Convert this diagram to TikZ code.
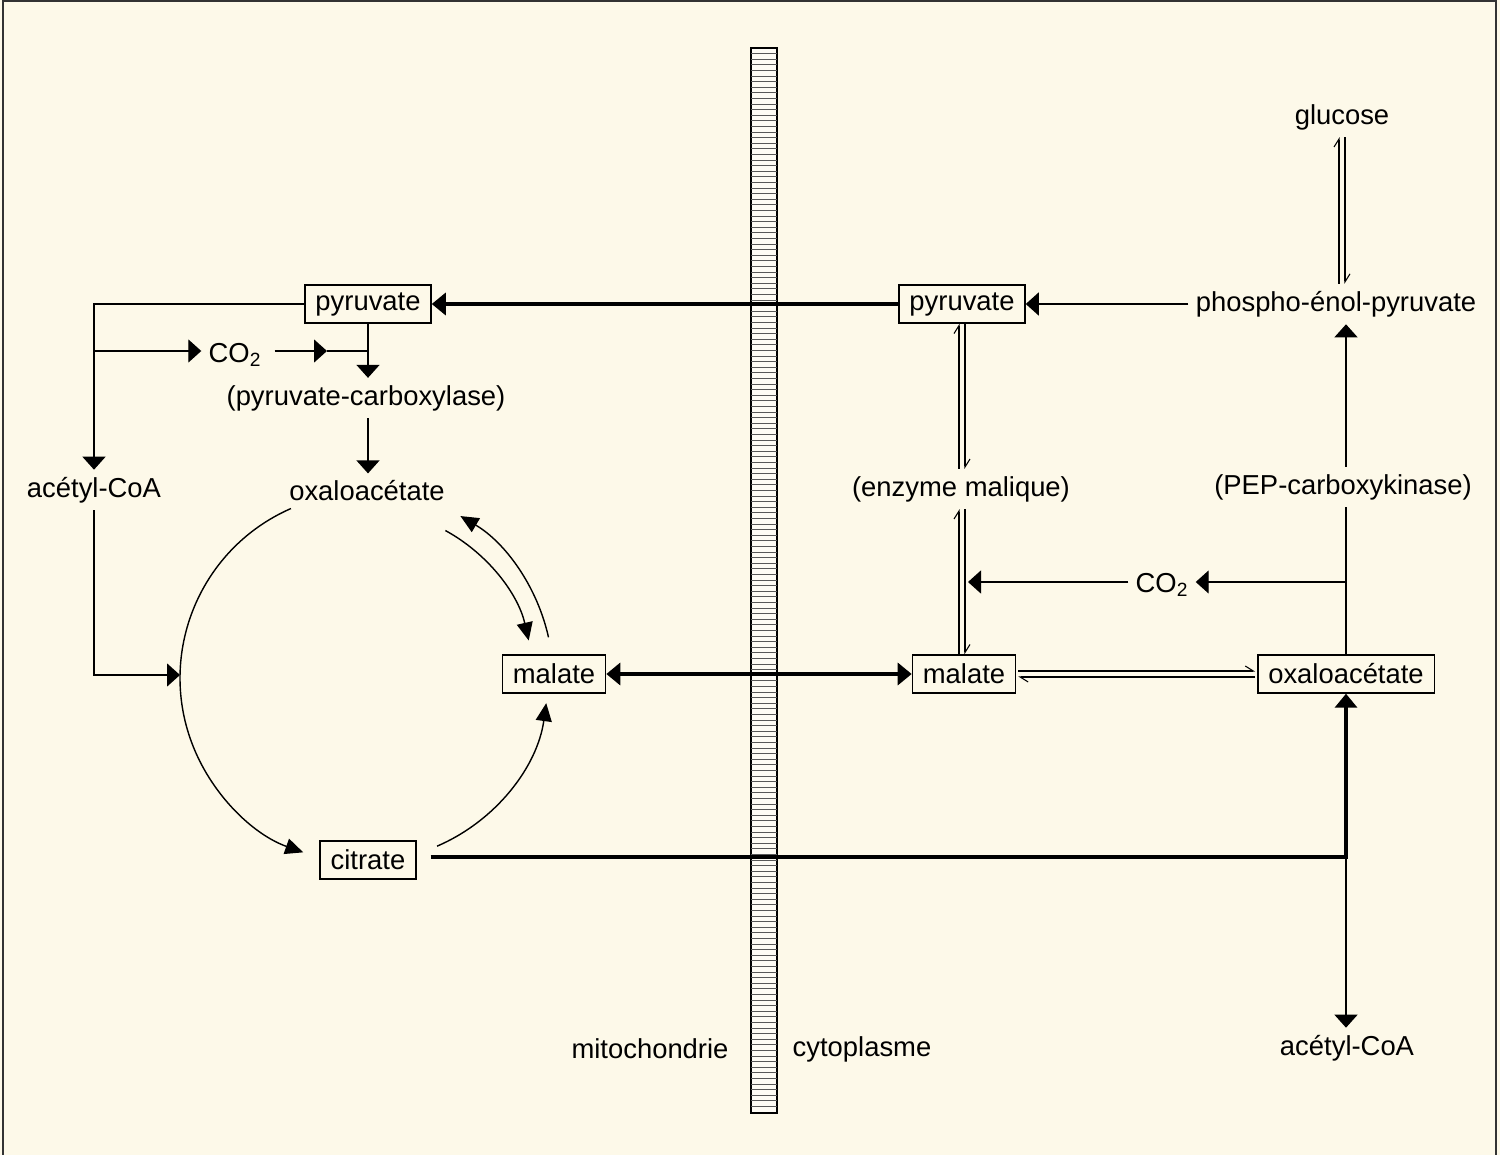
\documentclass[tikz,border=0pt]{standalone}
\usepackage{fontspec}
\setmainfont{Liberation Sans}
\usetikzlibrary{arrows.meta,calc}
\definecolor{fond}{RGB}{253,249,233}

\begin{document}
\begin{tikzpicture}[
    x=0.02cm, y=-0.02cm,
    font=\fontsize{15.6}{18}\selectfont,
    every node/.style={inner sep=4pt},
    box/.style={
        rectangle, draw=black, line width=0.8pt,
        inner xsep=0.21cm, inner ysep=0pt, minimum height=0.76cm
    },
    arr/.style={-{Triangle[length=0.26cm, width=0.46cm]}, line width=0.8pt},
    cyc/.style={-{Triangle[length=0.36cm, width=0.32cm]}, line width=0.8pt},
    fort/.style={-{Triangle[length=0.28cm, width=0.44cm]}, line width=2pt},
    fortdouble/.style={{Triangle[length=0.28cm, width=0.44cm]}-{Triangle[length=0.28cm, width=0.44cm]}, line width=2pt},
    eqh/.style={-{Straight Barb[left, length=0.16cm, width=0.2cm]}, line width=0.6pt}
]
% fond et cadre
\useasboundingbox (0,0) rectangle (1500,1155);
\fill[fond] (0,0) rectangle (1500,1155);
\draw[line width=1pt, black!80] (3,1155) -- (3,1) -- (1496,1) -- (1496,1155);

% membrane
\draw[line width=0.8pt, fill=white!55!fond] (751,48) rectangle (777,1113);
\foreach \h in {53.6,59.2,...,1110}
    \draw[gray!70!black, line width=0.55pt] (751,\h) -- (777,\h);

% métabolites
\node[box] (pyrM) at (368,304) {pyruvate};
\node[box] (pyrC) at (962,304) {pyruvate};
\node (pep) at (1336,304) {phospho-énol-pyruvate};
\node (glucose) at (1342,117) {glucose};
\node (pepck) at (1343,487) {(PEP-carboxykinase)};
\node (co2C) at (1162,585) {CO\textsubscript{2}};
\node (enzM) at (961,489) {(enzyme malique)};
\node[box] (malC) at (964,674) {malate};
\node[box] (oaaC) at (1346,674) {oxaloacétate};
\node (acoaC) at (1347,1048) {acétyl-CoA};
\node[box] (malM) at (554,674) {malate};
\node[box] (citM) at (368,860) {citrate};
\node (oaaM) at (367,491) {oxaloacétate};
\node (pcM) at (366,398) {(pyruvate-carboxylase)};
\node (co2M) at (235,355) {CO\textsubscript{2}};
\node (acoaM) at (94,490) {acétyl-CoA};
\node (mito) at (650,1049) {mitochondrie};
\node (cyto) at (862,1049) {cytoplasme};

% points de jonction
\coordinate (jB) at (94,351);
\coordinate (jC) at (368,351);
\coordinate (co2tip) at (327,351);
\coordinate (cycW) at (180,675);
\coordinate (cyc) at (365,678);
\coordinate (jD) at (1346,857);
\coordinate (jE) at (1346,582);
\coordinate (co2end) at (968,582);

% côté mitochondrie
\draw[arr] (pyrM.west) -| (acoaM.north);
\draw[arr] (jB) -- (co2M.west |- jB);
\draw[arr, shorten <=0.12cm] (co2M.east |- jB) -- (co2tip);
\draw[line width=0.8pt] (co2tip) -- (jC);
\draw[arr] (pyrM.south) -- (pcM.north -| pyrM.south);
\draw[arr] (pcM.south -| pyrM.south) -- (oaaM.north -| pyrM.south);
\draw[arr] (acoaM.south) |- (cycW);

% cycle
\draw[cyc] ($(cyc)+(113.6:3.7cm)$) arc[start angle=113.6, end angle=250.5, radius=3.7cm];
\draw[cyc] ($(cyc)+(-66.8:3.66cm)$) arc[start angle=-66.8, end angle=-7.9, radius=3.66cm];
\draw[cyc] ($(cyc)+(61.4:3.36cm)$) arc[start angle=61.4, end angle=12.9, radius=3.36cm];
\draw[cyc] ($(cyc)+(12.5:3.76cm)$) arc[start angle=12.5, end angle=59.5, radius=3.76cm];

% transports à travers la membrane
\draw[fort] (pyrC.west) -- (pyrM.east);
\draw[fortdouble] (malM.east) -- (malC.west);
\draw[fort] ($(citM.east)+(14,-3)$) -| (oaaC.south);
\draw[arr] (jD) -- (acoaC.north -| jD);

% côté cytoplasme
\draw[arr] (pep.west) -- (pyrC.east);
\draw[eqh] ($(glucose.south |- pep.north)+(-3,0)$) -- ($(glucose.south)+(-3,0)$);
\draw[eqh] ($(glucose.south)+(3,0)$) -- ($(glucose.south |- pep.north)+(3,0)$);
\draw[eqh] ($(pyrC.south |- enzM.north)+(-3,0)$) -- ($(pyrC.south)+(-3,0)$);
\draw[eqh] ($(pyrC.south)+(3,0)$) -- ($(pyrC.south |- enzM.north)+(3,0)$);
\draw[eqh] ($(pyrC.south |- malC.north)+(-3,0)$) -- ($(pyrC.south |- enzM.south)+(-3,0)$);
\draw[eqh] ($(pyrC.south |- enzM.south)+(3,0)$) -- ($(pyrC.south |- malC.north)+(3,0)$);
\draw[arr] (jE) -- (co2C.east |- jE);
\draw[arr] (co2C.west |- jE) -- (co2end);
\draw[line width=0.8pt] (oaaC.north) -- (pepck.south -| oaaC.north);
\draw[arr] (pepck.north -| oaaC.north) -- (pep.south -| oaaC.north);
\draw[eqh] ($(malC.east)+(2,-3)$) -- ($(oaaC.west)+(-2,-3)$);
\draw[eqh] ($(oaaC.west)+(-2,3)$) -- ($(malC.east)+(2,3)$);

\end{tikzpicture}
\end{document}
